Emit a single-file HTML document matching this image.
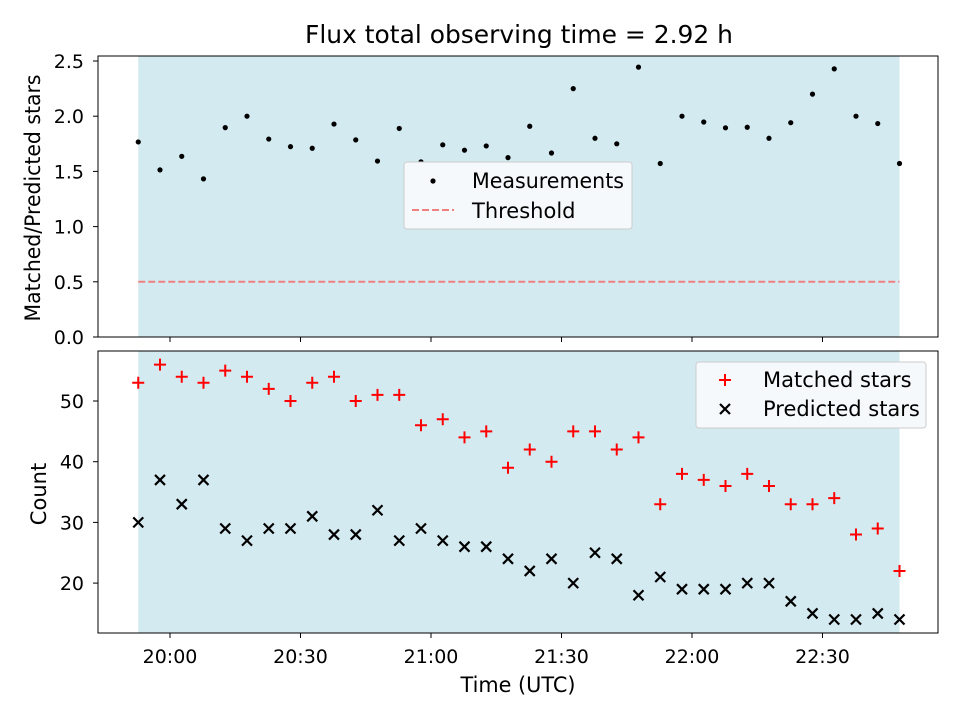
<!DOCTYPE html>
<html><head><meta charset="utf-8"><style>
body{margin:0;background:#fff}
svg text{font-family:"DejaVu Sans","Liberation Sans",sans-serif;fill:#000}
</style></head><body>
<svg id="c" width="960" height="720" viewBox="0 0 960 720"></svg>
<script>
const matched=[53,56,54,53,55,54,52,50,53,54,50,51,51,46,47,44,45,39,42,40,45,45,42,44,33,38,37,36,38,36,33,33,34,28,29,22];
const predicted=[30,37,33,37,29,27,29,29,31,28,28,32,27,29,27,26,26,24,22,24,20,25,24,18,21,19,19,19,20,20,17,15,14,14,15,14];
const ratio=matched.map((m,i)=>m/predicted[i]);
const startMin=-7.3, stepMin=5;
const xTickMins=[0,30,60,90,120,150];
const xTickLabels=["20:00","20:30","21:00","21:30","22:00","22:30"];
const topTicks=[0,0.5,1.0,1.5,2.0,2.5];
const botTicks=[20,30,40,50];
const threshold=0.5;

const NS="http://www.w3.org/2000/svg";
const svg=document.getElementById('c');
function el(t,a,p){const e=document.createElementNS(NS,t);for(const k in a)e.setAttribute(k,a[k]);(p||svg).appendChild(e);return e;}
const xs=m=>170+(m)*130.5/30;
const yT=v=>337-v*110.4;
const yB=v=>401-(v-50)*6.07;
const times=matched.map((_,i)=>startMin+i*stepMin);
const x0=xs(times[0]), x1=xs(times[times.length-1]);
const TF=19, LF=21;

function panel(top,bot,name){
  const g=el('g',{});
  const s=el('rect',{x:x0,y:top,width:x1-x0,height:bot-top,fill:'#d4eaf1'},g);
  
  return g;
}
// top panel
const gt=panel(56,337,'ratio-panel');
const th=el('line',{x1:x0,x2:x1,y1:yT(threshold),y2:yT(threshold),stroke:'#f08080','stroke-width':2,'stroke-dasharray':'7,3'},gt);

ratio.forEach((r,i)=>{const c=el('circle',{cx:xs(times[i]),cy:yT(r),r:2.6,fill:'#000'},gt);
});
el('rect',{x:98,y:56,width:840,height:281,fill:'none',stroke:'#000','stroke-width':1},gt);
topTicks.forEach(v=>{el('line',{x1:98,x2:93,y1:yT(v),y2:yT(v),stroke:'#000'},gt);
const t=el('text',{x:84,y:yT(v)+7,'text-anchor':'end','font-size':TF},gt);t.textContent=v.toFixed(1);
});
xTickMins.forEach(m=>el('line',{x1:xs(m),x2:xs(m),y1:337,y2:342,stroke:'#000'},gt));
let t=el('text',{x:40,y:198,'text-anchor':'middle','font-size':LF,transform:'rotate(-90 40 198)',textLength:247,lengthAdjust:'spacingAndGlyphs'});t.textContent='Matched/Predicted stars';

t=el('text',{x:519,y:43,'text-anchor':'middle','font-size':25,textLength:428,lengthAdjust:'spacingAndGlyphs'});t.textContent='Flux total observing time = 2.92 h';

// top legend
const lg=el('g',{});
el('rect',{x:404,y:162,width:228,height:67,rx:3,fill:'#f5f9fb',stroke:'#ccc'},lg);
el('circle',{cx:433,cy:181,r:2.6,fill:'#000'},lg);
t=el('text',{x:472,y:188,'font-size':LF,textLength:152,lengthAdjust:'spacingAndGlyphs'},lg);t.textContent='Measurements';
el('line',{x1:412,x2:454,y1:210,y2:210,stroke:'#f08080','stroke-width':2,'stroke-dasharray':'7,3'},lg);
t=el('text',{x:472,y:218,'font-size':LF},lg);t.textContent='Threshold';
// bottom panel
const gb=panel(351,633,'count-panel');
matched.forEach((m,i)=>{const x=xs(times[i]),y=yB(m);const p=el('path',{d:`M${x-6},${y}H${x+6}M${x},${y-6}V${y+6}`,stroke:'#f00','stroke-width':2},gb);
});
predicted.forEach((m,i)=>{const x=xs(times[i]),y=yB(m);const p=el('path',{d:`M${x-5},${y-5}L${x+5},${y+5}M${x-5},${y+5}L${x+5},${y-5}`,stroke:'#000','stroke-width':2.2},gb);
});
el('rect',{x:98,y:351,width:840,height:282,fill:'none',stroke:'#000'},gb);
botTicks.forEach(v=>{el('line',{x1:98,x2:93,y1:yB(v),y2:yB(v),stroke:'#000'},gb);
const t=el('text',{x:84,y:yB(v)+7,'text-anchor':'end','font-size':TF},gb);t.textContent=v;
});
xTickMins.forEach((m,i)=>{el('line',{x1:xs(m),x2:xs(m),y1:633,y2:638,stroke:'#000'},gb);
const t=el('text',{x:xs(m),y:663,'text-anchor':'middle','font-size':TF},gb);t.textContent=xTickLabels[i];
});
t=el('text',{x:46,y:494,'text-anchor':'middle','font-size':LF,transform:'rotate(-90 46 494)'});t.textContent='Count';

t=el('text',{x:518,y:692,'text-anchor':'middle','font-size':LF,textLength:115,lengthAdjust:'spacingAndGlyphs'});t.textContent='Time (UTC)';

const lb=el('g',{});
el('rect',{x:696,y:362,width:230,height:66,rx:3,fill:'#f5f9fb',stroke:'#ccc'},lb);
el('path',{d:'M719,380H731M725,374V386',stroke:'#f00','stroke-width':2},lb);
t=el('text',{x:763,y:387,'font-size':LF},lb);t.textContent='Matched stars';
el('path',{d:'M720,404L730,414M720,414L730,404',stroke:'#000','stroke-width':2.2},lb);
t=el('text',{x:763,y:416,'font-size':LF},lb);t.textContent='Predicted stars';
</script>
</body></html>
